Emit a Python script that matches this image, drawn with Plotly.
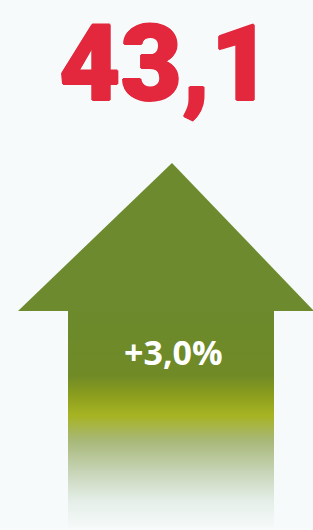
import plotly.graph_objects as go

# ---- content ----
value_label = "43,1"
change_label = "+3,0%"

# arrow head outline (canvas coordinates, y down)
head_x = [172, 314, 18, 172]
head_y = [163, 311, 311, 163]
shaft_left, shaft_right = 68, 274

# shaft gradient stops (y position, colour)
grad_y = [306, 318, 375, 395, 415, 440, 470, 500, 528, 545]
grad_c = ["#6c8a2c", "#6c8a2c", "#708a26", "#8c9e1e", "#a6b322", "#a8b878",
          "#c6d3b4", "#e4eee8", "#f6fafa", "#f8fbfb"]

W, H = 313, 530
fig = go.Figure()

# gradient shaft via smoothed heatmap (two columns whose brick edges are the shaft edges)
half = (shaft_right - shaft_left) / 4
zmin, zmax = grad_y[0], grad_y[-1]
cscale = [[(y - zmin) / (zmax - zmin), c] for y, c in zip(grad_y, grad_c)]
fig.add_trace(go.Heatmap(
    x=[shaft_left + half, shaft_right - half], y=grad_y,
    z=[[y, y] for y in grad_y],
    colorscale=cscale, zmin=zmin, zmax=zmax,
    zsmooth="best", showscale=False, hoverinfo="skip",
))

# arrow head
fig.add_trace(go.Scatter(
    x=head_x, y=head_y, mode="lines", fill="toself",
    fillcolor="#6d8b2e", line=dict(width=0), hoverinfo="skip",
))

red = "#e3283d"
fig.add_annotation(x=165, y=64, text=value_label, showarrow=False,
                   font=dict(family="Roboto", size=106, color=red, weight=900,
                             shadow=f"1px 0 0 {red}, -1px 0 0 {red}, 0 1px 0 {red}, 0 -1px 0 {red}"),
                   xanchor="center", yanchor="middle")
fig.add_annotation(x=173, y=352, text=change_label, showarrow=False,
                   font=dict(family="Open Sans", size=34, color="white", weight="bold"),
                   xanchor="center", yanchor="middle")

fig.update_xaxes(range=[0, W], visible=False, fixedrange=True)
fig.update_yaxes(range=[H, 0], visible=False, fixedrange=True)
fig.update_layout(
    width=W, height=H, margin=dict(l=0, r=0, t=0, b=0),
    paper_bgcolor="#f6fafb", plot_bgcolor="#f6fafb",
    showlegend=False,
)
fig.write_html("out.html", config={"staticPlot": True},
               post_script="document.body.style.margin='0';document.body.style.overflow='hidden';")
